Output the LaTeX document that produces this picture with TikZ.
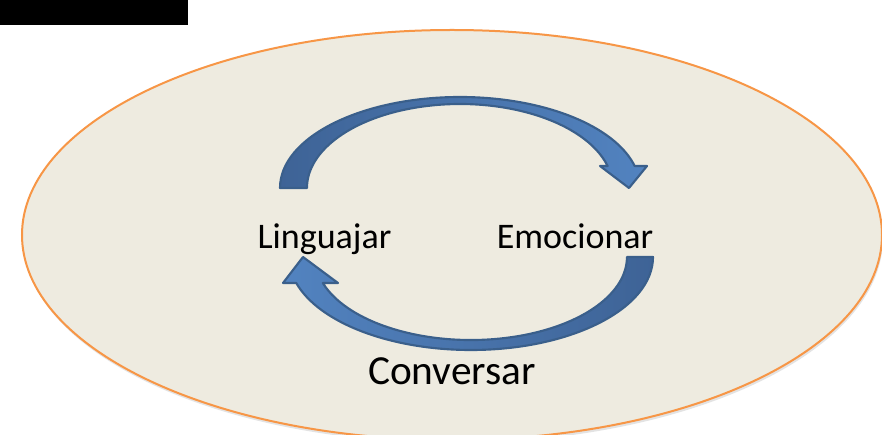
\documentclass[tikz,border=0pt]{standalone}
\usepackage{fontspec}
\setmainfont{Carlito}
\usepackage{tikz}
\usetikzlibrary{calc}
\definecolor{platefill}{HTML}{EEEBE0}
\definecolor{plateline}{HTML}{F79646}
\definecolor{arrowline}{HTML}{3A5F8B}
\definecolor{arrowdark}{HTML}{3E6396}
\definecolor{arrowlight}{HTML}{5283C0}
\tikzstyle{plate}=[
  fill=platefill,
  draw=plateline,
  line width=1.5pt
]
\tikzstyle{word}=[
  inner sep=0pt,
  anchor=base,
  font=\fontsize{27}{32}\selectfont
]
\tikzstyle{blockarrow}=[
  draw=arrowline,
  line width=1.6pt,
  line join=round
]

\begin{document}
\begin{tikzpicture}[x=0.75pt, y=0.75pt]
  \useasboundingbox (0,0) rectangle (882,435);
  \fill[white] (0,0) rectangle (882,435);
  \clip (0,0) rectangle (882,435);

  \fill[black] (0,410) rectangle (188,435);

  % the plate
  \fill[black!60, opacity=0.18] (453,197) ellipse [x radius=430, y radius=205];
  \draw[plate] (452,200) ellipse [x radius=430, y radius=205];

  \node[word] (ling) at (324.5,186) {Linguajar};
  \node[word] (emoc) at (575,186)   {Emocionar};
  \node[word, font=\fontsize{31}{37}\selectfont] (conv) at (452,50) {Conversar};

  % top arrow, Linguajar to Emocionar
  \coordinate (lingtail) at (280,247);
  \coordinate (emoctip)  at (629,247);
  \draw[blockarrow, left color=arrowdark, right color=arrowlight]
    (lingtail) arc[start angle=180, end angle=14, x radius=180, y radius=91]
    -- (647,269) -- (emoctip) -- (600,269) -- (607.6,269)
    arc[start angle=15.2, end angle=180, x radius=153, y radius=84]
    -- cycle;

  % bottom arrow, Emocionar to Linguajar
  \coordinate (emoctail) at (653,178);
  \coordinate (lingtip)  at (303,178);
  \draw[blockarrow, left color=arrowlight, right color=arrowdark]
    (emoctail) arc[start angle=0, end angle=-163.8, x radius=182, y radius=93]
    -- (283,152) -- (lingtip) -- (338,152) -- (322.8,152)
    arc[start angle=-161.75, end angle=0, x radius=156, y radius=83]
    -- cycle;
\end{tikzpicture}
\end{document}
